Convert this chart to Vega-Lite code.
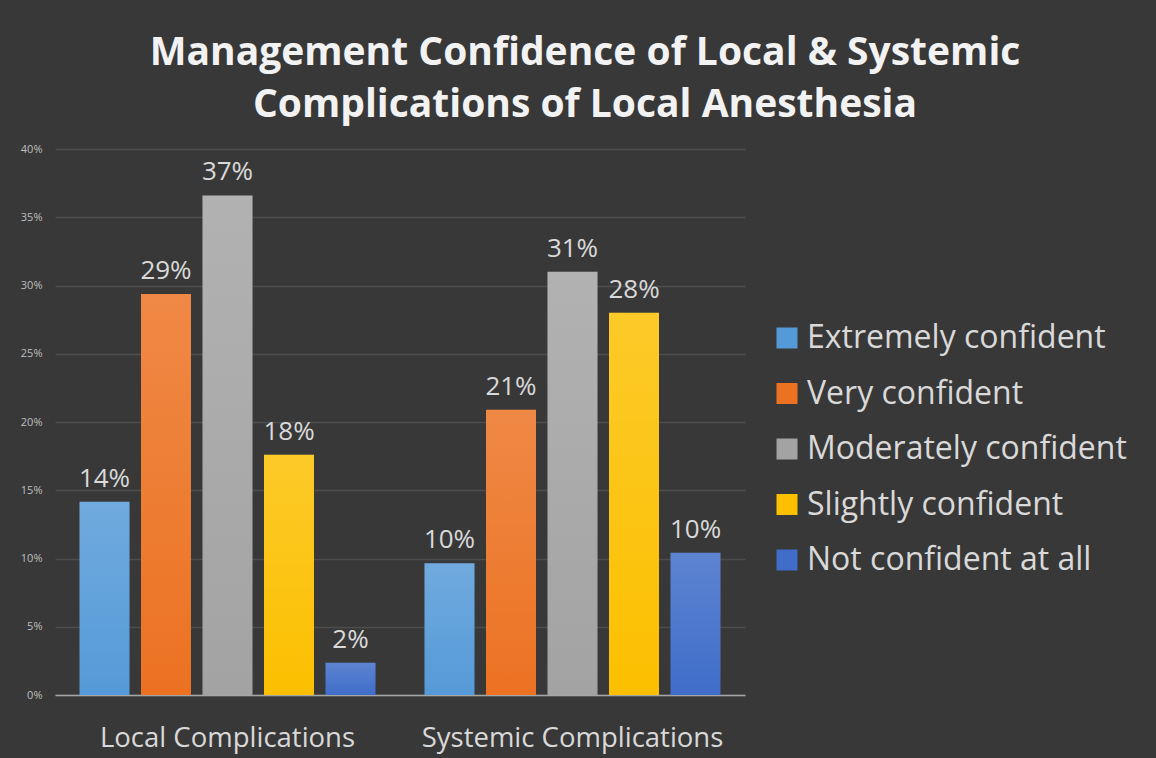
{
  "$schema": "https://vega.github.io/schema/vega-lite/v6.json",
  "width": 690,
  "height": 546,
  "autosize": "none",
  "padding": {"left": 55, "top": 149, "right": 411, "bottom": 63},
  "background": "#383838",
  "title": {
    "text": ["Management Confidence of Local & Systemic", "Complications of Local Anesthesia"],
    "anchor": "middle",
    "frame": "group",
    "dx": 185,
    "dy": 47,
    "offset": 34,
    "baseline": "alphabetic",
    "font": "Open Sans",
    "fontSize": 39,
    "fontWeight": "bold",
    "lineHeight": 52,
    "color": "#f2f2f2",
    "limit": 1100
  },
  "data": {
    "values": [
      {"group": "Local Complications", "level": "Extremely confident", "value": 0.1416},
      {"group": "Local Complications", "level": "Very confident", "value": 0.2938},
      {"group": "Local Complications", "level": "Moderately confident", "value": 0.366},
      {"group": "Local Complications", "level": "Slightly confident", "value": 0.176},
      {"group": "Local Complications", "level": "Not confident at all", "value": 0.0237},
      {"group": "Systemic Complications", "level": "Extremely confident", "value": 0.0965},
      {"group": "Systemic Complications", "level": "Very confident", "value": 0.209},
      {"group": "Systemic Complications", "level": "Moderately confident", "value": 0.31},
      {"group": "Systemic Complications", "level": "Slightly confident", "value": 0.28},
      {"group": "Systemic Complications", "level": "Not confident at all", "value": 0.1043}
    ]
  },
  "encoding": {
    "x": {
      "field": "group",
      "type": "nominal",
      "sort": null,
      "scale": {"paddingInner": 0.142, "paddingOuter": 0.071},
      "axis": {
        "title": null,
        "labelAngle": 0,
        "labelFont": "Open Sans",
        "labelFontSize": 27.5,
        "labelColor": "#d9d9d9",
        "labelPadding": 29,
        "labelLimit": 500,
        "ticks": false,
        "domain": true,
        "domainColor": "#a6a6a6",
        "domainWidth": 1.5,
        "grid": false
      }
    },
    "xOffset": {
      "field": "level",
      "type": "nominal",
      "sort": ["Extremely confident", "Very confident", "Moderately confident", "Slightly confident", "Not confident at all"],
      "scale": {"paddingInner": 0.187, "paddingOuter": 0}
    },
    "y": {
      "field": "value",
      "type": "quantitative",
      "scale": {"domain": [0, 0.4], "nice": false},
      "axis": {
        "title": null,
        "values": [0, 0.05, 0.1, 0.15, 0.2, 0.25, 0.3, 0.35, 0.4],
        "format": ".0%",
        "labelFont": "Open Sans",
        "labelFontSize": 11,
        "labelColor": "#bfbfbf",
        "labelPadding": 13,
        "ticks": false,
        "domain": false,
        "grid": true,
        "gridColor": "#4d4d4d",
        "gridWidth": 1.5
      }
    }
  },
  "layer": [
    {
      "mark": {"type": "bar"},
      "encoding": {
        "color": {
          "field": "level",
          "type": "nominal",
          "sort": ["Extremely confident", "Very confident", "Moderately confident", "Slightly confident", "Not confident at all"],
          "scale": {
            "domain": ["Extremely confident", "Very confident", "Moderately confident", "Slightly confident", "Not confident at all"],
            "range": ["#559ad8", "#ec7222", "#a3a3a3", "#fcc000", "#3f6dc9"]
          },
          "legend": {
            "title": null,
            "orient": "none",
            "legendX": 716,
            "legendY": 173,
            "symbolType": "square",
            "symbolSize": 441,
            "symbolStrokeWidth": 0,
            "labelFont": "Open Sans",
            "labelFontSize": 32,
            "labelColor": "#d9d9d9",
            "labelOffset": 4,
            "rowPadding": 23.5,
            "labelLimit": 500
          }
        }
      }
    },
    {
      "mark": {
        "type": "bar",
        "fill": {
          "gradient": "linear",
          "x1": 0, "y1": 0, "x2": 0, "y2": 1,
          "stops": [
            {"offset": 0, "color": "rgba(255,255,255,0.16)"},
            {"offset": 1, "color": "rgba(255,255,255,0)"}
          ]
        }
      }
    },
    {
      "mark": {
        "type": "text",
        "baseline": "alphabetic",
        "dy": -15,
        "font": "Open Sans",
        "fontSize": 26,
        "color": "#d9d9d9"
      },
      "encoding": {
        "text": {"field": "value", "type": "quantitative", "format": ".0%"}
      }
    }
  ],
  "config": {
    "view": {"stroke": null}
  }
}
